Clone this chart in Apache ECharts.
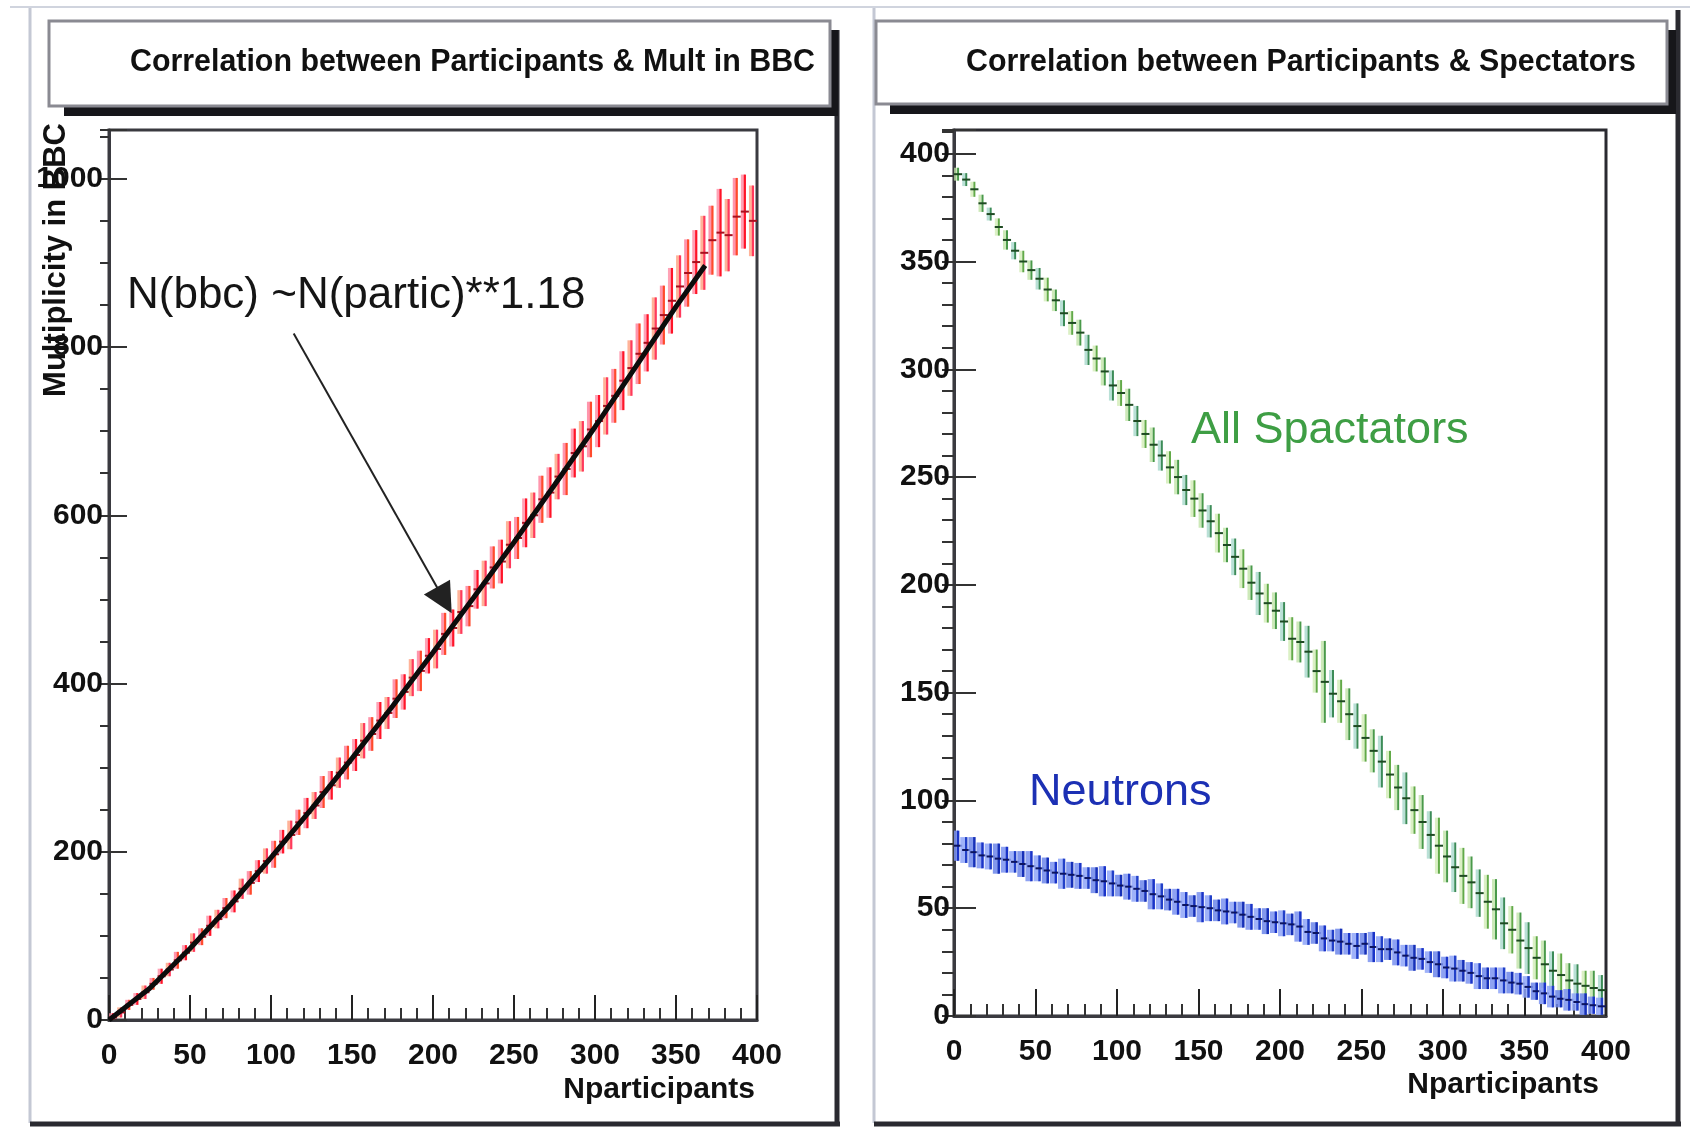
<!DOCTYPE html>
<html>
<head>
<meta charset="utf-8">
<script src="https://cdn.jsdelivr.net/npm/echarts@6/dist/echarts.min.js"></script>
<style>
  html, body { margin: 0; padding: 0; background: #ffffff; }
  #chart { width: 1693px; height: 1129px; }
</style>
</head>
<body>
<div id="chart"></div>
<script>
// Bin centres in Nparticipants (5-wide bins over 0..400)
const nPartBins = [
  2.5, 7.5, 12.5, 17.5, 22.5, 27.5, 32.5, 37.5, 42.5, 47.5,
  52.5, 57.5, 62.5, 67.5, 72.5, 77.5, 82.5, 87.5, 92.5, 97.5,
  102.5, 107.5, 112.5, 117.5, 122.5, 127.5, 132.5, 137.5, 142.5, 147.5,
  152.5, 157.5, 162.5, 167.5, 172.5, 177.5, 182.5, 187.5, 192.5, 197.5,
  202.5, 207.5, 212.5, 217.5, 222.5, 227.5, 232.5, 237.5, 242.5, 247.5,
  252.5, 257.5, 262.5, 267.5, 272.5, 277.5, 282.5, 287.5, 292.5, 297.5,
  302.5, 307.5, 312.5, 317.5, 322.5, 327.5, 332.5, 337.5, 342.5, 347.5,
  352.5, 357.5, 362.5, 367.5, 372.5, 377.5, 382.5, 387.5, 392.5, 397.5
];

// Mean BBC multiplicity per bin and its error
const bbcMult = [
  3, 9, 18, 25, 33, 43, 52, 60, 71, 80,
  92, 99, 112, 120, 133, 141, 156, 163, 177, 189,
  197, 212, 220, 235, 246, 255, 271, 279, 294, 306,
  315, 332, 340, 356, 365, 382, 390, 407, 415, 433,
  441, 459, 466, 485, 492, 512, 519, 538, 545, 565,
  573, 591, 600, 619, 627, 646, 655, 674, 682, 702,
  712, 730, 742, 760, 775, 792, 805, 822, 838, 855,
  872, 888, 901, 912, 927, 936, 933, 955, 961, 950
];
const bbcErr = [
  5, 6, 6, 7, 8, 7, 9, 8, 10, 9,
  11, 10, 12, 11, 12, 13, 12, 14, 13, 15,
  16, 14, 17, 15, 18, 16, 19, 17, 18, 20,
  19, 21, 20, 22, 19, 23, 21, 22, 24, 21,
  23, 25, 22, 26, 24, 23, 27, 25, 26, 28,
  25, 29, 27, 28, 30, 27, 31, 29, 30, 33,
  31, 34, 32, 35, 33, 36, 34, 37, 35, 39,
  37, 40, 38, 44, 41, 52, 43, 46, 44, 42
];

// Power-law fit N(bbc) ~ N(partic)**1.18, sampled along the drawn curve
const fitNpart = [0, 25, 50, 75, 100, 125, 150, 175, 200, 225, 250, 275, 300, 325, 350, 368];
const fitMult  = [0, 37.5, 85, 137, 193, 251, 311, 373, 437, 502, 568, 636, 705, 776, 848, 897];

// Spectators per bin (all spectators and neutrons) with errors
const allSpectators = [
  390.5, 388, 383.5, 377, 372, 366, 360, 355, 350, 346,
  342, 337, 332, 326, 321.5, 317, 309, 305, 299, 292.5,
  289, 283.5, 276, 270, 265, 260, 254.5, 250, 244, 240,
  234.5, 229.5, 224, 218.5, 213, 207.5, 201, 196, 191.5, 188,
  183, 175, 173.5, 169, 160, 155, 149.5, 146, 140, 134.5,
  129, 123, 118, 112, 106, 101, 95.5, 90, 84, 79,
  74, 69, 65, 62, 57, 53, 49.5, 43, 40, 35,
  31.5, 27, 24, 21, 19, 16.5, 15, 14, 13, 12
];
const allSpectatorsErr = [
  3, 3, 3.5, 4, 3, 4, 4.5, 4, 5, 4.5,
  5, 5.5, 5, 6, 5.5, 6, 7, 6, 6.5, 7,
  6, 7.5, 7, 6.5, 8, 7, 7.5, 8, 7, 8.5,
  8, 7.5, 9, 8, 8.5, 9, 8, 10, 9, 8.5,
  9, 10, 9.5, 12, 10, 19, 11, 10, 12, 10.5,
  11, 10, 12, 11, 10.5, 12, 11, 12.5, 11, 13,
  12, 11.5, 13, 12, 11, 12.5, 14, 12, 11, 13,
  12, 10, 11, 9, 10, 8, 9, 7, 8, 7
];
const neutrons = [
  79, 77, 76, 74.5, 74, 73, 72.5, 71.5, 70.5, 69.5,
  68.5, 67.5, 66.5, 66, 65.5, 65, 64, 63, 62.5, 61.5,
  60.5, 60, 59, 58, 56.5, 55.5, 54, 53, 51.5, 51,
  50.5, 50, 49, 48.5, 48, 47, 46, 45, 44, 43.5,
  43, 42.5, 41.5, 39, 38.5, 36, 35, 34.5, 33.5, 32.5,
  33.5, 32, 31, 31, 29.5, 28, 27, 26.5, 25, 24,
  22.5, 22, 21, 20, 18.5, 17.5, 17.5, 16.5, 15.5, 15,
  13.5, 11.5, 10.5, 9, 8, 7.5, 6.5, 5.5, 5, 4.5
];
const neutronsErr = [
  7, 6, 7, 6, 6, 7, 6, 5, 6, 7,
  6, 6, 5, 7, 6, 6, 5, 6, 7, 6,
  5, 6, 6, 5, 7, 6, 5, 6, 6, 5,
  7, 6, 5, 6, 5, 6, 6, 5, 6, 5,
  6, 5, 7, 6, 5, 6, 5, 6, 5, 6,
  5, 7, 6, 5, 6, 5, 6, 5, 5, 6,
  5, 6, 5, 5, 6, 5, 5, 6, 5, 5,
  5, 4, 5, 5, 4, 5, 4, 5, 4, 4
];

// Arrow from the fit label down to the curve, in data units
const arrowFrom = [114, 816];
const arrowTo = [207, 499];

const TICK_FONT = '"Liberation Sans", Arial, sans-serif';

const measureCtx = document.createElement('canvas').getContext('2d');
// horizontal squeeze so a heading fills a given width (condensed look)
function squeezeTo(text, font, width) {
  measureCtx.font = font;
  return width / measureCtx.measureText(text).width;
}

function zip3(xs, ys, es) {
  return xs.map((x, i) => [x, ys[i], es[i]]);
}

// Histogram-style error bars: vertical bar, a soft halo and the bin-width marker
function errorBars(xAxisIndex, yAxisIndex, data, look) {
  return {
    type: 'custom',
    xAxisIndex, yAxisIndex,
    clip: true,
    silent: true,
    data,
    renderItem(params, api) {
      const x = api.value(0), y = api.value(1), e = api.value(2);
      const top = api.coord([x, y + e]);
      const bot = api.coord([x, y - e]);
      const left = api.coord([x - 2.5, y]);
      const right = api.coord([x + 2.5, y]);
      const i = params.dataIndex;
      return {
        type: 'group',
        children: [
          { type: 'rect',
            shape: { x: top[0] + look.bandOffset, y: top[1], width: look.bandWidth, height: bot[1] - top[1] },
            style: { fill: look.band[i % look.band.length], opacity: look.bandOpacity } },
          { type: 'line',
            shape: { x1: top[0], y1: top[1], x2: bot[0], y2: bot[1] },
            style: { stroke: look.stroke[i % look.stroke.length], lineWidth: look.lineWidth } },
          { type: 'line',
            shape: { x1: left[0], y1: left[1], x2: right[0], y2: right[1] },
            style: { stroke: look.centre, lineWidth: 2 } }
        ]
      };
    }
  };
}

function mainXAxis(gridIndex, labelMargin, majorLen) {
  return {
    type: 'value', gridIndex, min: 0, max: 400, interval: 50,
    axisLine: { show: true, onZero: false, lineStyle: { color: '#3a3a40', width: 3 } },
    axisTick: { show: true, inside: true, length: majorLen, lineStyle: { color: '#222', width: 2 } },
    minorTick: { show: true, splitNumber: 5, length: 12, lineStyle: { color: '#333', width: 2 } },
    splitLine: { show: false },
    axisLabel: { show: true, margin: labelMargin, color: '#111', fontFamily: TICK_FONT, fontWeight: 'bold', fontSize: 30 }
  };
}

function yAxisPair(gridIndex, max, major, minor, majorLen, minorLen, labelMargin) {
  return [
    {
      type: 'value', gridIndex, min: 0, max, interval: major,
      axisLine: { show: true, onZero: false, lineStyle: { color: '#3a3a40', width: 3 } },
      axisTick: { show: true, inside: true, length: majorLen, lineStyle: { color: '#333', width: 2 } },
      splitLine: { show: false },
      axisLabel: {
        show: true, margin: labelMargin, color: '#111', fontFamily: TICK_FONT, fontWeight: 'bold', fontSize: 30,
        formatter: v => (Math.abs(v % major) < 1e-6 ? String(v) : '')
      }
    },
    {
      type: 'value', gridIndex, min: 0, max, interval: minor,
      axisLine: { show: false },
      axisTick: { show: true, inside: true, length: minorLen, lineStyle: { color: '#333', width: 2 } },
      splitLine: { show: false },
      axisLabel: { show: false }
    }
  ];
}

const chart = echarts.init(document.getElementById('chart'), null, { renderer: 'canvas' });

const leftY = yAxisPair(0, 1058, 200, 50, 18, 9, 6);
const rightY = yAxisPair(1, 411, 50, 10, 22, 12, 4);

const frameLight = '#c4c8d4';
const frameDark = '#2a2a30';

const leftTitle = 'Correlation between Participants & Mult in BBC';
const rightTitle = 'Correlation between Participants & Spectators';
const titleFont = 'bold 32px "Liberation Sans", Arial, sans-serif';

const option = {
  backgroundColor: '#ffffff',
  animation: false,
  grid: [
    { left: 109, top: 130, width: 648, height: 890, show: true, backgroundColor: '#ffffff',
      borderColor: '#3a3a40', borderWidth: 3, containLabel: false },
    { left: 954, top: 130, width: 652, height: 886, show: true, backgroundColor: '#ffffff',
      borderColor: '#2a2a30', borderWidth: 3, containLabel: false }
  ],
  xAxis: [mainXAxis(0, 21, 25), mainXAxis(1, 21, 27)],
  yAxis: [leftY[0], leftY[1], rightY[0], rightY[1]],
  series: [
    errorBars(0, 0, zip3(nPartBins, bbcMult, bbcErr), {
      band: ['#ff8ca4', '#ffa080', '#ff7c98'], bandOpacity: 0.8, bandWidth: 4, bandOffset: -4,
      stroke: ['#ff1428', '#ff3a5c', '#ff4a2c'], lineWidth: 2.2, centre: '#a8101f'
    }),
    {
      type: 'line', xAxisIndex: 0, yAxisIndex: 0,
      data: fitNpart.map((x, i) => [x, fitMult[i]]),
      showSymbol: false, symbol: 'none', smooth: false, silent: true,
      lineStyle: { color: '#0c0c0c', width: 5 },
      markLine: {
        silent: true, animation: false,
        symbol: ['none', 'triangle'], symbolSize: 30,
        lineStyle: { color: '#222', width: 2, type: 'solid' },
        label: { show: false },
        data: [[{ coord: arrowFrom }, { coord: arrowTo }]]
      },
      z: 3
    },
    errorBars(1, 2, zip3(nPartBins, allSpectators, allSpectatorsErr), {
      band: ['#c0e4a8', '#a8d8cc', '#d2ecb6'], bandOpacity: 0.8, bandWidth: 3, bandOffset: -4,
      stroke: ['#4a9a4a', '#3c8c58', '#62aa48'], lineWidth: 2, centre: '#1e4a22'
    }),
    errorBars(1, 2, zip3(nPartBins, neutrons, neutronsErr), {
      band: ['#7a92f0', '#8ea4f8', '#6c86ea'], bandOpacity: 0.85, bandWidth: 6, bandOffset: -6,
      stroke: ['#1a34c8', '#2240c8', '#1630b8'], lineWidth: 2.5, centre: '#0c1460'
    })
  ],
  graphic: [
    // outer canvas line and panel frames
    { type: 'line', shape: { x1: 10, y1: 7, x2: 1690, y2: 7 }, style: { stroke: '#d0d4de', lineWidth: 2 }, z: 1 },
    { type: 'line', shape: { x1: 30, y1: 8, x2: 30, y2: 1123 }, style: { stroke: frameLight, lineWidth: 3 }, z: 1 },
    { type: 'line', shape: { x1: 30, y1: 1124, x2: 840, y2: 1124 }, style: { stroke: frameDark, lineWidth: 5 }, z: 1 },
    { type: 'line', shape: { x1: 837, y1: 30, x2: 837, y2: 1126 }, style: { stroke: frameDark, lineWidth: 5 }, z: 1 },
    { type: 'line', shape: { x1: 874, y1: 8, x2: 874, y2: 1123 }, style: { stroke: frameLight, lineWidth: 3 }, z: 1 },
    { type: 'line', shape: { x1: 874, y1: 1124, x2: 1681, y2: 1124 }, style: { stroke: frameDark, lineWidth: 5 }, z: 1 },
    { type: 'line', shape: { x1: 1678, y1: 10, x2: 1678, y2: 1126 }, style: { stroke: frameDark, lineWidth: 5 }, z: 1 },

    // title boxes with drop shadows
    { type: 'rect', shape: { x: 64, y: 30, width: 774, height: 86 }, style: { fill: '#16161a' }, z: 2 },
    { type: 'rect', shape: { x: 49, y: 21, width: 781, height: 85 }, style: { fill: '#ffffff', stroke: '#8a8a92', lineWidth: 3 }, z: 3 },
    { type: 'text', x: 130, y: 62, z: 4, scaleX: squeezeTo(leftTitle, titleFont, 685),
      style: { text: leftTitle, fill: '#111', font: titleFont, textAlign: 'left', textVerticalAlign: 'middle' } },
    { type: 'rect', shape: { x: 890, y: 30, width: 786, height: 84 }, style: { fill: '#16161a' }, z: 2 },
    { type: 'rect', shape: { x: 876, y: 21, width: 791, height: 83 }, style: { fill: '#ffffff', stroke: '#8a8a92', lineWidth: 3 }, z: 3 },
    { type: 'text', x: 966, y: 62, z: 4, scaleX: squeezeTo(rightTitle, titleFont, 670),
      style: { text: rightTitle, fill: '#111', font: titleFont, textAlign: 'left', textVerticalAlign: 'middle' } },

    // axis titles
    { type: 'text', x: 56, y: 260, rotation: Math.PI / 2, z: 20,
      style: { text: 'Multiplicity in BBC', fill: '#111', font: 'bold 31px ' + TICK_FONT,
               textAlign: 'center', textVerticalAlign: 'middle' } },
    { type: 'text', x: 755, y: 1090, z: 20,
      style: { text: 'Nparticipants', fill: '#111', font: 'bold 30px ' + TICK_FONT,
               textAlign: 'right', textVerticalAlign: 'middle' } },
    { type: 'text', x: 1599, y: 1085, z: 20,
      style: { text: 'Nparticipants', fill: '#111', font: 'bold 30px ' + TICK_FONT,
               textAlign: 'right', textVerticalAlign: 'middle' } },

    // in-plot annotations
    { type: 'text', x: 127, y: 296, z: 20,
      style: { text: 'N(bbc) ~N(partic)**1.18', fill: '#151515', font: '44px ' + TICK_FONT,
               textAlign: 'left', textVerticalAlign: 'middle' } },
    { type: 'text', x: 1191, y: 431, z: 20,
      style: { text: 'All Spactators', fill: '#3e9e44', font: '45px ' + TICK_FONT,
               textAlign: 'left', textVerticalAlign: 'middle' } },
    { type: 'text', x: 1029, y: 793, z: 20,
      style: { text: 'Neutrons', fill: '#1c30b4', font: '45px ' + TICK_FONT,
               textAlign: 'left', textVerticalAlign: 'middle' } }
  ]
};

chart.setOption(option);
</script>
</body>
</html>
